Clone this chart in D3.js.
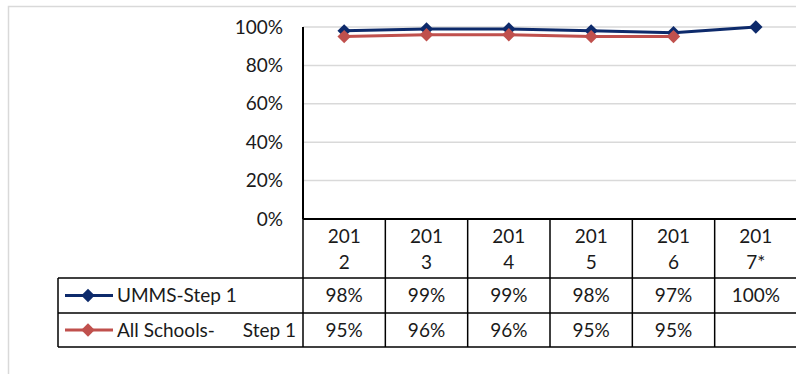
<!DOCTYPE html>
<html>
<head>
<meta charset="utf-8">
<script src="https://cdn.jsdelivr.net/npm/d3@7"></script>
<style>
  body { margin: 0; background: #fff; }
  text { font-family: Lato, "Open Sans", sans-serif; fill: #1a1a1a; }
</style>
</head>
<body>
<script>
// chart data
const years = ["2012", "2013", "2014", "2015", "2016", "2017*"]
const umms = [0.98, 0.99, 0.99, 0.98, 0.97, 1.00]
const allSchools = [0.95, 0.96, 0.96, 0.95, 0.95, null]
const yTicks = [0, 0.2, 0.4, 0.6, 0.8, 1.0]
const seriesNames = ["UMMS-Step 1", "All Schools-     Step 1"]
const colors = ["#0d2a6b", "#c0504d"]

const width = 796, height = 374
const plotLeft = 303, plotRight = 797, plotTop = 27, plotBottom = 219
const rowH = [59, 35, 34] // header row, series rows
const legendLeft = 58
const fs = '19px'

const svg = d3.select('body').append('svg')
    .attr('width', width)
    .attr('height', height)

// outer frame
svg.append('rect')
    .attr('x', 8.5).attr('y', 6.5)
    .attr('width', 800).attr('height', 380)
    .attr('fill', 'none')
    .attr('stroke', '#d9d9d9')
    .attr('stroke-width', 1.5)

const x = d3.scaleBand()
    .domain(years)
    .range([plotLeft, plotRight])

const y = d3.scaleLinear()
    .domain([0, 1])
    .range([plotBottom, plotTop])

// gridlines
svg.append('g')
    .selectAll('line')
    .data(yTicks.filter(d => d > 0))
    .enter()
    .append('line')
    .attr('x1', plotLeft).attr('x2', plotRight)
    .attr('y1', d => y(d)).attr('y2', d => y(d))
    .attr('stroke', '#d9d9d9')
    .attr('stroke-width', 1.5)

// y axis labels
svg.append('g')
    .selectAll('text')
    .data(yTicks)
    .enter()
    .append('text')
    .attr('x', 283)
    .attr('y', d => y(d))
    .attr('dy', '0.35em')
    .attr('text-anchor', 'end')
    .style('font-size', fs)
    .text(d => d3.format('.0%')(d))

// y axis line
svg.append('line')
    .attr('x1', plotLeft).attr('x2', plotLeft)
    .attr('y1', plotTop).attr('y2', plotBottom)
    .attr('stroke', '#000').attr('stroke-width', 2)

// data table
const rowTops = [plotBottom, plotBottom + rowH[0], plotBottom + rowH[0] + rowH[1]]
const tableBottom = rowTops[2] + rowH[2]
const tbl = svg.append('g')
    .attr('stroke', '#000')
    .attr('stroke-width', 1.5)

// horizontal rules
tbl.append('line').attr('x1', plotLeft).attr('x2', plotRight)
    .attr('y1', plotBottom).attr('y2', plotBottom).attr('stroke-width', 2)
;[rowTops[1], rowTops[2], tableBottom].forEach(yy => {
    tbl.append('line').attr('x1', legendLeft).attr('x2', plotRight)
        .attr('y1', yy).attr('y2', yy)
})
// vertical rules
tbl.append('line').attr('x1', legendLeft).attr('x2', legendLeft)
    .attr('y1', rowTops[1]).attr('y2', tableBottom)
years.forEach(yr => {
    tbl.append('line').attr('x1', x(yr)).attr('x2', x(yr))
        .attr('y1', plotBottom).attr('y2', tableBottom)
})

// category headers, wrapped like the original
const headers = svg.append('g')
    .selectAll('text')
    .data(years)
    .enter()
    .append('text')
    .attr('text-anchor', 'middle')
    .style('font-size', fs)
headers.append('tspan')
    .attr('x', d => x(d) + x.bandwidth() / 2)
    .attr('y', 236).attr('dy', '0.35em')
    .text(d => d.slice(0, 3))
headers.append('tspan')
    .attr('x', d => x(d) + x.bandwidth() / 2)
    .attr('y', 262).attr('dy', '0.35em')
    .text(d => d.slice(3))

// value cells
;[umms, allSchools].forEach((vals, i) => {
    const cy = rowTops[i + 1] + rowH[i + 1] / 2
    svg.append('g')
        .selectAll('text')
        .data(years)
        .enter()
        .append('text')
        .attr('x', d => x(d) + x.bandwidth() / 2)
        .attr('y', cy)
        .attr('dy', '0.35em')
        .attr('text-anchor', 'middle')
        .style('font-size', fs)
        .text((d, j) => vals[j] == null ? '' : d3.format('.0%')(vals[j]))
})

// lines + markers (square turned 45deg = excel diamond)
const diamond = d3.symbol().type(d3.symbolSquare).size(90)
;[umms, allSchools].forEach((vals, i) => {
    const pts = years.map((d, j) => ({year: d, v: vals[j]})).filter(p => p.v != null)
    const line = d3.line()
        .x(p => x(p.year) + x.bandwidth() / 2)
        .y(p => y(p.v))
    svg.append('path')
        .datum(pts)
        .attr('d', line)
        .attr('fill', 'none')
        .attr('stroke', colors[i])
        .attr('stroke-width', 3)
    svg.append('g')
        .selectAll('path')
        .data(pts)
        .enter()
        .append('path')
        .attr('d', diamond)
        .attr('transform', p => 'translate(' + (x(p.year) + x.bandwidth() / 2) + ',' + y(p.v) + ') rotate(45)')
        .attr('fill', colors[i])
})

// legend keys in the table
;[0, 1].forEach(i => {
    const cy = rowTops[i + 1] + rowH[i + 1] / 2
    svg.append('line')
        .attr('x1', 65).attr('x2', 113)
        .attr('y1', cy).attr('y2', cy)
        .attr('stroke', colors[i]).attr('stroke-width', 3)
    svg.append('path')
        .attr('d', diamond)
        .attr('transform', 'translate(88,' + cy + ') rotate(45)')
        .attr('fill', colors[i])
})
svg.append('text')
    .attr('x', 117).attr('y', rowTops[1] + rowH[1] / 2).attr('dy', '0.35em')
    .style('font-size', fs)
    .text(seriesNames[0])
const parts = seriesNames[1].split(/\s{2,}/)
svg.append('text')
    .attr('x', 117).attr('y', rowTops[2] + rowH[2] / 2).attr('dy', '0.35em')
    .style('font-size', fs)
    .text(parts[0])
svg.append('text')
    .attr('x', 296).attr('y', rowTops[2] + rowH[2] / 2).attr('dy', '0.35em')
    .attr('text-anchor', 'end')
    .style('font-size', fs)
    .text(parts[1])
</script>
</body>
</html>
